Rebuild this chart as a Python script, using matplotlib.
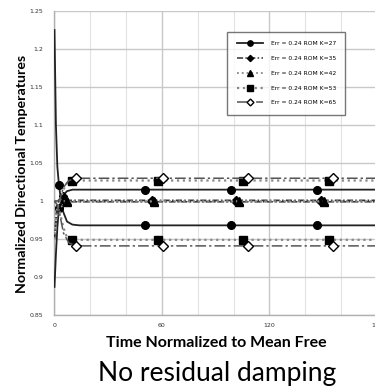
import matplotlib.pyplot as plt
from matplotlib.lines import Line2D

# Normalized directional temperatures for each ROM size K
t_27 = [0, 0.8, 1.6, 2.5, 3.5, 5, 7, 10, 14, 50.5, 98.5, 146.3, 180]
up_27 = [1.225, 1.10, 1.045, 1.021, 1.003, 1.008, 1.013, 1.015, 1.015, 1.015, 1.015, 1.015, 1.015]
lo_27 = [0.887, 0.93, 0.965, 0.991, 0.998, 0.985, 0.973, 0.969, 0.968, 0.968, 0.968, 0.968, 0.968]

t_35 = [0, 1, 2.5, 5, 8, 54.5, 101.5, 149, 180]
up_35 = [0.95, 0.985, 1.002, 1.006, 1.001, 1.001, 1.001, 1.001, 1.001]
lo_35 = [0.95, 0.975, 0.995, 1.001, 0.999, 0.999, 0.999, 0.999, 0.999]

t_42 = [0, 1, 2.5, 7, 10, 55.5, 103, 150.5, 180]
up_42 = [0.95, 0.985, 1.0, 1.0, 1.0, 1.0, 1.0, 1.0, 1.0]
lo_42 = [0.95, 0.975, 0.99, 0.999, 0.999, 0.999, 0.999, 0.999, 0.999]

t_53 = [0, 1.5, 3, 5, 7, 9.8, 58, 105.5, 153, 180]
up_53 = [1.0, 1.0, 1.0, 1.015, 1.024, 1.027, 1.027, 1.027, 1.027, 1.027]
lo_53 = [1.0, 0.995, 0.985, 0.965, 0.952, 0.949, 0.949, 0.949, 0.949, 0.949]

t_65 = [0, 1.5, 3, 5, 8, 12.2, 60.5, 108, 155.5, 180]
up_65 = [1.0, 1.0, 1.002, 1.018, 1.027, 1.030, 1.030, 1.030, 1.030, 1.030]
lo_65 = [1.0, 0.995, 0.982, 0.958, 0.945, 0.941, 0.941, 0.941, 0.941, 0.941]

labels = ['Err = 0.24 ROM K=27', 'Err = 0.24 ROM K=35', 'Err = 0.24 ROM K=42',
          'Err = 0.24 ROM K=53', 'Err = 0.24 ROM K=65']

x_ticks = [0, 60, 120, 180]
y_ticks = [0.85, 0.9, 0.95, 1, 1.05, 1.1, 1.15, 1.2, 1.25]

fig = plt.figure(figsize=(3.75, 3.88), dpi=100)
ax = fig.add_axes([0.1453, 0.188, 0.8597, 0.7836])

styles = [
    (t_27, up_27, lo_27, dict(color='#222222', ls='-', lw=1.3, marker='o', ms=5.5, mfc='black', mec='black'), [3, 9, 10, 11]),
    (t_35, up_35, lo_35, dict(color='#333333', ls=(0, (4, 1.5, 1, 1.5)), lw=1.1, marker='D', ms=4.5, mfc='black', mec='black'), [3, 5, 6, 7]),
    (t_42, up_42, lo_42, dict(color='#888888', ls=':', lw=1.3, marker='^', ms=5.5, mfc='black', mec='black'), [3, 5, 6, 7]),
    (t_53, up_53, lo_53, dict(color='#888888', ls=':', lw=1.6, marker='s', ms=6, mfc='black', mec='black'), [5, 6, 7, 8]),
    (t_65, up_65, lo_65, dict(color='#555555', ls=(0, (7, 2, 1.5, 2)), lw=1.1, marker='D', ms=5, mfc='white', mec='black'), [5, 6, 7, 8]),
]

for t, up, lo, st, marks in styles:
    ax.plot(t, up, markevery=marks, zorder=3, **st)
    ax.plot(t, lo, markevery=marks, zorder=3, **st)

ax.set_xlim(0, 180)
ax.set_ylim(0.85, 1.25)
ax.set_xticks(x_ticks)
ax.set_xticks(range(0, 181, 20), minor=True)
ax.set_yticks(y_ticks)
ax.set_yticklabels(['0.85', '0.9', '0.95', '1', '1.05', '1.1', '1.15', '1.2', '1.25'])
ax.tick_params(labelsize=4.5, colors='#333333', length=0, pad=8)
ax.tick_params(axis='x', pad=6)
ax.grid(which='major', color='#c8c8c8', lw=1.0)
ax.grid(which='minor', axis='x', color='#e2e2e2', lw=0.8)
ax.tick_params(which='minor', length=0)
for s in ['top', 'right']:
    ax.spines[s].set_visible(False)
for s in ['left', 'bottom']:
    ax.spines[s].set_color('#b0b0b0')
    ax.spines[s].set_linewidth(1.0)

handles = []
for t, up, lo, st, marks in styles:
    h = dict(st)
    h['ms'] = h['ms'] * 0.7
    handles.append(Line2D([], [], **h))
leg = ax.legend(handles, labels, loc='upper left', bbox_to_anchor=(0.535, 0.932),
                fontsize=4.3, frameon=True, fancybox=False, handlelength=4.5,
                borderpad=1.6, labelspacing=1.6, handletextpad=1.2,
                borderaxespad=0, markerscale=1.0)
leg.get_frame().set_edgecolor('#555555')
leg.get_frame().set_linewidth(1.0)

fig.text(0.058, 0.552, 'Normalized Directional Temperatures', rotation=90,
         ha='center', va='center', fontsize=10.2, fontweight='bold', family='Lato')
fig.text(0.578, 0.117, 'Time Normalized to Mean Free', ha='center', va='center',
         fontsize=11.5, fontweight='bold', family='Lato')
fig.text(0.578, 0.038, 'No residual damping', ha='center', va='center',
         fontsize=19, family='Lato')

fig.savefig('out.png', dpi=100)
